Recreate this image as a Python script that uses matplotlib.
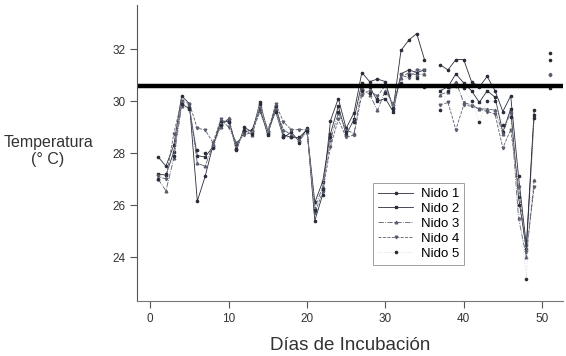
import matplotlib
matplotlib.use("Agg")
import matplotlib.pyplot as plt
import numpy as np

plt.rcParams['font.family'] = ['Liberation Sans', 'DejaVu Sans']

nan = np.nan
#days of incubation (36 and 50 have no data)
dias = list(range(1, 52))

nido1 = [27.85, 27.5, 28.3, 30.2, 29.9, 26.15, 27.1, 28.3, 29.1, 29.3,
         28.1, 29.0, 28.8, 29.95, 28.8, 29.6, 28.6, 28.8, 28.45, 28.95,
         25.4, 26.4, 29.25, 30.1, 28.95, 29.55, 31.1, 30.75, 30.85, 30.75,
         29.7, 31.95, 32.35, 32.6, 31.6, nan, 31.4, 31.2, 31.6, 31.6,
         30.75, 30.55, 30.95, 30.4, 29.6, 30.2, 27.1, 24.45, 29.65, nan, 31.85]
nido2 = [27.2, 27.15, 28.05, 29.9, 29.7, 27.9, 27.85, 28.25, 29.25, 29.2,
         28.3, 28.8, 28.9, 29.7, 28.7, 29.8, 28.7, 28.6, 28.6, 28.9,
         26.1, 26.9, 28.75, 29.8, 28.7, 29.3, 30.7, 30.55, 30.0, 30.1,
         29.6, 31.05, 31.2, 31.1, 31.2, nan, 30.4, 30.55, 31.05, 30.7,
         30.4, 29.95, 30.4, 30.15, 28.8, 29.7, 26.3, 24.3, 29.45, nan, 30.5]
nido3 = [27.0, 26.55, 27.8, 29.8, 29.8, 27.6, 27.5, 28.3, 29.0, 29.35,
         28.2, 28.9, 28.7, 29.8, 28.9, 29.7, 28.9, 28.7, 28.5, 28.8,
         25.9, 26.7, 28.5, 29.55, 28.9, 28.75, 30.5, 30.25, 29.65, 30.4,
         29.9, 30.9, 31.1, 31.0, 31.05, nan, 30.25, 30.35, 30.75, 29.95,
         29.85, 29.7, 29.7, 29.65, 28.75, 29.6, 25.5, 24.0, 26.95, nan, 31.05]
nido4 = [27.1, 27.0, 28.75, 30.0, 29.9, 28.95, 28.9, 28.4, 29.3, 29.0,
         28.4, 28.7, 28.8, 29.6, 28.8, 29.9, 29.2, 28.9, 28.9, 28.9,
         25.7, 26.5, 28.25, 29.3, 28.6, 28.7, 30.25, 30.4, 30.2, 30.6,
         29.8, 31.0, 30.9, 31.2, 31.2, nan, 29.85, 29.95, 28.9, 29.85,
         29.8, 29.7, 29.6, 29.5, 28.2, 28.9, 26.7, 24.2, 26.7, nan, 31.0]
nido5 = [27.0, 27.2, 27.9, 29.9, 29.75, 28.1, 28.0, 28.2, 29.1, 29.2,
         28.15, 28.9, 28.75, 29.9, 28.75, 29.6, 28.6, 28.6, 28.4, 28.85,
         25.8, 26.6, 28.6, 29.6, 28.8, 29.2, 30.4, 30.3, 30.1, 30.3,
         29.75, 30.7, 31.0, 30.9, 30.55, nan, 29.65, 30.4, 30.6, 30.5,
         30.0, 29.2, 30.0, 30.0, 29.1, 29.4, 26.0, 23.15, 29.35, nan, 31.6]

umbral = 30.6
nombres = ['Nido 1', 'Nido 2', 'Nido 3', 'Nido 4', 'Nido 5']

fig = plt.figure()
fig.set_size_inches(5.66, 3.56)
ax = fig.add_axes([0.242, 0.154, 0.753, 0.832])

c = '#2a2d3a'
ax.plot(dias, nido1, color=c, lw=0.6, ls='-', marker='o', ms=1.6, label=nombres[0])
ax.plot(dias, nido2, color=c, lw=0.6, ls='-', marker='s', ms=1.9, label=nombres[1])
ax.plot(dias, nido3, color='#5a5d6e', lw=0.6, ls='-.', marker='^', ms=1.9, label=nombres[2])
ax.plot(dias, nido4, color='#5a5d6e', lw=0.6, ls='--', marker='v', ms=1.9, label=nombres[3])
ax.plot(dias, nido5, color='#d0d0d8', lw=0.5, ls=':', marker='o', ms=1.6,
        mfc=c, mec=c, label=nombres[4])

ax.axhline(umbral, color='black', lw=3.2)

ax.set_xlim(-1.7, 52.7)
ax.set_ylim(22.3, 33.7)
ax.set_xticks([0, 10, 20, 30, 40, 50])
ax.set_yticks([24, 26, 28, 30, 32])
ax.tick_params(labelsize=8.5, length=5, color='#555555', labelcolor='#333333')
ax.spines['top'].set_visible(False)
ax.spines['right'].set_visible(False)
ax.spines['left'].set_color('#555555')
ax.spines['bottom'].set_color('#777777')

ax.set_xlabel('Días de Incubación', fontsize=13.5, color='#333333', labelpad=9)
fig.text(0.085, 0.575, 'Temperatura\n(° C)', ha='center', va='center',
         fontsize=11.5, color='#333333', linespacing=1.15)

leg = ax.legend(loc='upper left', bbox_to_anchor=(0.554, 0.40), fontsize=9.5,
                frameon=True, fancybox=False, handlelength=2.6,
                borderpad=0.4, labelspacing=0.2, handletextpad=0.6,
                borderaxespad=0)
leg.get_frame().set_edgecolor('#888888')
leg.get_frame().set_linewidth(0.7)

plt.savefig('out.png', dpi=100)
